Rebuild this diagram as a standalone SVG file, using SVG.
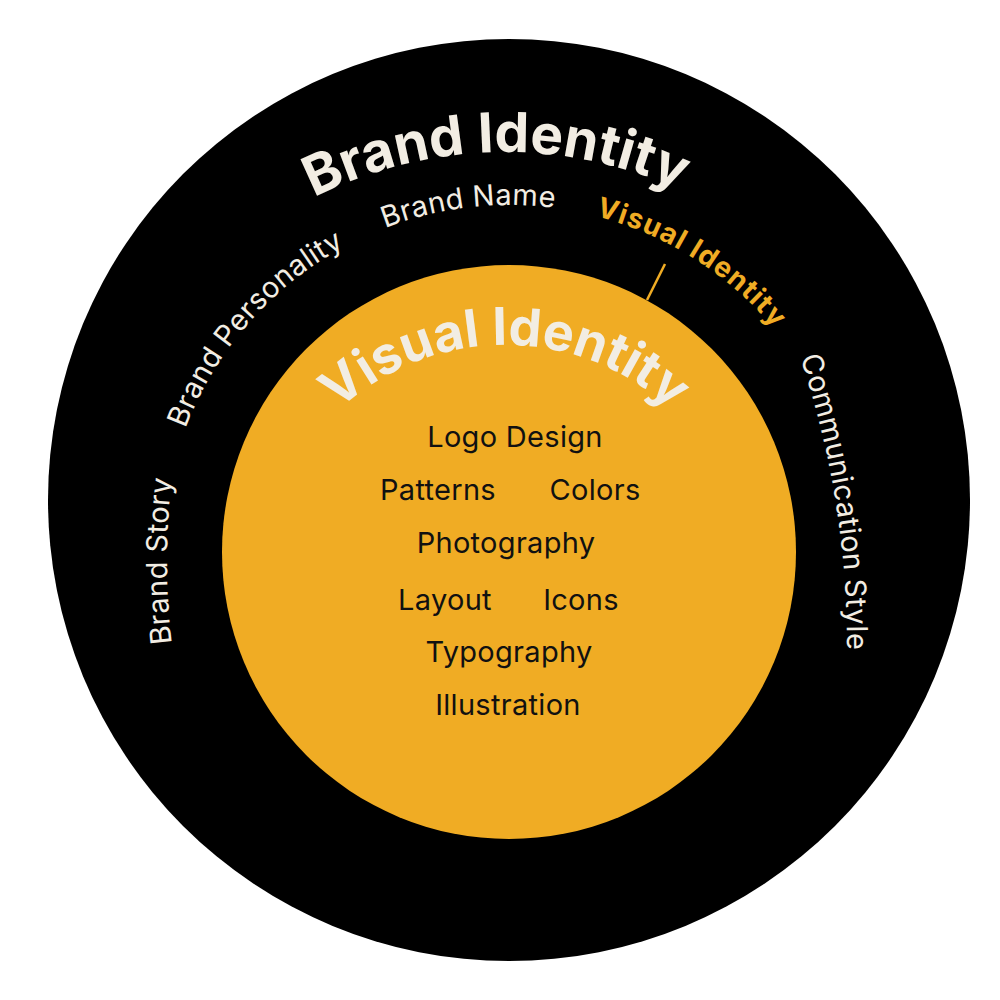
<svg xmlns="http://www.w3.org/2000/svg" width="1000" height="1000" viewBox="0 0 1000 1000">
<style>
.bg{fill:#ffffff}
.outer{fill:#000000}
.inner{fill:#F0AC24}
.big{font-family:Inter,"Noto Sans",sans-serif;font-weight:700;fill:#F2EDE3}
.ring{font-family:Inter,"Noto Sans",sans-serif;font-weight:400;font-size:29px;letter-spacing:0.3px;fill:#F2EDE3}
.orange{font-family:Inter,"Noto Sans",sans-serif;font-weight:700;font-size:28px;letter-spacing:1.2px;fill:#F0AC24}
.item{font-family:Inter,"Noto Sans",sans-serif;font-weight:400;font-size:29px;letter-spacing:0.3px;fill:#111111;text-anchor:middle}
.conn{stroke:#F0AC24;stroke-width:2.5;fill:none}
</style>
<defs>
<path id="pBrandIdentity" d="M138.7,363.5 A423,423 0 0 1 871.3,363.5"/>
<path id="pVisualInner" d="M263.7,547.5 A245,245 0 0 1 746.3,547.5"/>
<path id="pVisualOuter" d="M403.8,221.4 A346,346 0 0 1 851.9,504.6"/>
<path id="pBrandName" d="M219.8,361.1 A346,346 0 0 1 746.3,299.2"/>
<path id="pBrandPersonality" d="M167.1,603.9 A346,346 0 0 1 516.2,205.1"/>
<path id="pBrandStory" d="M209.2,800.4 A700,700 0 0 1 209.2,321.6"/>
<path id="pComm" d="M692.3,139.5 A900,900 0 0 1 812.5,890.6"/>
</defs>
<rect class="bg" x="0" y="0" width="1000" height="1000"/>
<g id="brand-identity">
<circle class="outer" cx="509" cy="500" r="461"/>
<text class="big" font-size="55" text-anchor="middle"><textPath href="#pBrandIdentity" startOffset="49%">Brand Identity</textPath></text>
</g>
<g id="brand-name"><text class="ring" text-anchor="middle"><textPath href="#pBrandName" startOffset="50%">Brand Name</textPath></text></g>
<g id="brand-personality"><text class="ring" text-anchor="middle"><textPath href="#pBrandPersonality" startOffset="50%">Brand Personality</textPath></text></g>
<g id="brand-story"><text class="ring" text-anchor="middle"><textPath href="#pBrandStory" startOffset="50%">Brand Story</textPath></text></g>
<g id="communication-style"><text class="ring" text-anchor="middle"><textPath href="#pComm" startOffset="50%">Communication Style</textPath></text></g>
<g id="visual-identity-label"><text class="orange" text-anchor="middle"><textPath href="#pVisualOuter" startOffset="50%">Visual Identity</textPath></text></g>
<g id="connectors"><line class="conn" x1="647" y1="300" x2="665" y2="264"/></g>
<g id="visual-identity">
<circle class="inner" cx="509" cy="552" r="287"/>
<text class="big" font-size="52" text-anchor="middle"><textPath href="#pVisualInner" startOffset="50%">Visual Identity</textPath></text>
</g>
<g id="items">
<text class="item" x="515" y="447">Logo Design</text>
<text class="item" x="438" y="500">Patterns</text>
<text class="item" x="595" y="500">Colors</text>
<text class="item" x="506" y="553">Photography</text>
<text class="item" x="445" y="610">Layout</text>
<text class="item" x="581" y="610">Icons</text>
<text class="item" x="509" y="662">Typography</text>
<text class="item" x="508" y="715">Illustration</text>
</g>
</svg>
